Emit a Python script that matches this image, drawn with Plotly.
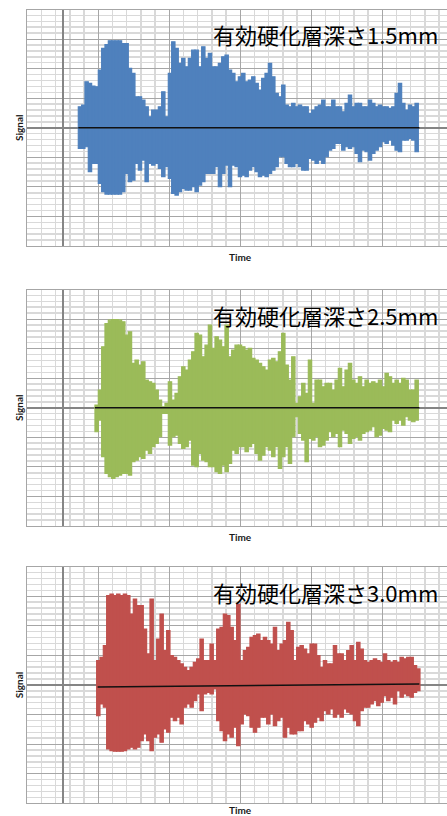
import numpy as np
import plotly.graph_objects as go

W, H = 447, 816
STEP = 10  # sample spacing (time units)

# ---- Panel 1 : 有効硬化層深さ1.5mm (signal envelope, a.u.) ----
P1_START = 50
P1_UPPER = [63, 68, 138, 133, 125, 123, 173, 238, 250, 261,
            261, 261, 261, 253, 253, 178, 163, 93, 93, 83,
            63, 33, 53, 53, 63, 108, 33, 163, 258, 238,
            193, 208, 183, 208, 233, 233, 183, 243, 208, 223,
            183, 183, 193, 213, 218, 173, 163, 138, 153, 163,
            138, 143, 153, 133, 113, 148, 163, 193, 153, 103,
            93, 128, 68, 63, 73, 63, 68, 63, 63, 43,
            53, 63, 68, 83, 63, 63, 83, 63, 63, 48,
            73, 98, 63, 73, 73, 63, 63, 83, 73, 63,
            68, 63, 63, 58, 63, 103, 133, 73, 53, 68,
            63, 73]
P1_LOWER = [-62, -62, -57, -132, -107, -107, -167, -192, -199, -199,
            -199, -199, -199, -192, -137, -162, -157, -107, -127, -97,
            -162, -107, -112, -107, -122, -147, -117, -152, -197, -202,
            -192, -182, -187, -187, -177, -192, -172, -162, -137, -137,
            -137, -117, -177, -137, -112, -177, -112, -117, -147, -142,
            -147, -127, -117, -132, -147, -142, -147, -137, -127, -117,
            -87, -87, -107, -117, -117, -107, -117, -127, -127, -92,
            -97, -107, -97, -107, -87, -67, -62, -47, -47, -67,
            -57, -62, -57, -77, -102, -67, -72, -97, -77, -67,
            -57, -42, -47, -37, -52, -67, -72, -37, -37, -32,
            -37, -72]

# ---- Panel 2 : 有効硬化層深さ2.5mm ----
P2_START = 100
P2_UPPER = [8, 53, 183, 253, 263, 265, 265, 263, 258, 218,
            228, 133, 143, 128, 138, 83, 78, 73, 53, 23,
            3, 13, 78, 23, 43, 93, 123, 113, 143, 168,
            223, 218, 153, 188, 248, 178, 213, 203, 183, 248,
            153, 173, 188, 188, 183, 173, 178, 148, 143, 133,
            123, 113, 143, 148, 138, 168, 223, 128, 83, 153,
            13, 33, 73, 43, 143, 13, 83, 83, 63, 73,
            73, 53, 83, 118, 63, 113, 133, 83, 73, 93,
            63, 83, 73, 78, 73, 83, 63, 103, 93, 73,
            83, 73, 88, 83, 53, 53, 83]
P2_LOWER = [-72, -37, -147, -197, -207, -212, -207, -202, -197, -197,
            -202, -162, -157, -147, -152, -127, -137, -117, -107, -87,
            -17, -17, -112, -87, -82, -107, -122, -117, -97, -172,
            -177, -137, -157, -162, -177, -177, -192, -197, -172, -192,
            -167, -127, -137, -117, -117, -132, -117, -107, -137, -157,
            -142, -117, -127, -147, -117, -182, -147, -117, -167, -87,
            -27, -77, -97, -162, -92, -97, -87, -117, -112, -97,
            -72, -87, -77, -117, -67, -77, -107, -92, -87, -97,
            -77, -72, -67, -57, -87, -82, -62, -67, -72, -37,
            -47, -37, -52, -27, -37, -42, -37]

# ---- Panel 3 : 有効硬化層深さ3.0mm ----
P3_START = 105
P3_UPPER = [73, 83, 118, 268, 273, 268, 273, 268, 273, 268,
            213, 258, 238, 238, 168, 93, 258, 73, 138, 213,
            103, 163, 88, 83, 73, 63, 53, 43, 53, 68,
            78, 138, 73, 73, 123, 73, 168, 173, 213, 208,
            173, 133, 243, 73, 103, 113, 143, 148, 153, 133,
            143, 133, 123, 173, 103, 123, 133, 188, 163, 73,
            113, 118, 108, 93, 123, 123, 88, 53, 73, 63,
            63, 118, 93, 93, 73, 103, 118, 73, 128, 108,
            73, 68, 73, 78, 73, 68, 93, 73, 68, 73,
            68, 83, 78, 83, 83, 58, 48]
P3_LOWER = [-92, -57, -67, -192, -197, -199, -199, -199, -197, -192,
            -187, -192, -187, -167, -147, -167, -197, -157, -147, -172,
            -132, -142, -97, -107, -97, -117, -67, -57, -67, -47,
            -27, -77, -27, -22, -27, -12, -107, -137, -167, -147,
            -157, -127, -182, -117, -87, -92, -127, -142, -127, -97,
            -97, -117, -87, -122, -107, -97, -157, -127, -147, -147,
            -137, -137, -107, -117, -127, -112, -97, -107, -77, -87,
            -72, -97, -87, -97, -72, -82, -87, -107, -122, -77,
            -67, -67, -57, -47, -62, -52, -32, -47, -37, -57,
            -17, -37, -27, -32, -37, -22, -17]

# mean (trend) line: (t_start, t_end, value_start, value_end)
MEAN_LINES = [(45, 1068, 0, 0), (95, 1068, 0, 0), (103, 1068, -6, 3)]

LABELS = ["有効硬化層深さ1.5mm", "有効硬化層深さ2.5mm", "有効硬化層深さ3.0mm"]
COLORS = ["#4F81BD", "#9BBB59", "#C0504D"]
X_TITLE = "Time"
Y_TITLE = "Signal"

panels = [(P1_START, P1_UPPER, P1_LOWER),
          (P2_START, P2_UPPER, P2_LOWER),
          (P3_START, P3_UPPER, P3_LOWER)]

# layout geometry (pixels from top)
PLOT_TOP = [9.5, 289.5, 566.7]
PLOT_H = 236.5
X_LEFT = 27.3
X_RANGE = [-108, 1151]
Y_RANGE = [-355, 355]

fig = go.Figure()
layout = dict(width=W, height=H, autosize=False,
              margin=dict(l=0, r=0, t=0, b=0, pad=0),
              paper_bgcolor="white", plot_bgcolor="white",
              showlegend=False, bargap=0, barmode="overlay")

annotations = []
for i, (start, up, lo) in enumerate(panels):
    n = i + 1
    xa = "x" if n == 1 else f"x{n}"
    ya = "y" if n == 1 else f"y{n}"
    up = np.array(up, dtype=float)
    lo = np.array(lo, dtype=float)
    t = start + STEP * np.arange(len(up))
    c = COLORS[i]
    fig.add_trace(go.Bar(x=t, y=up - lo, base=lo, width=STEP,
                         marker=dict(color=c, line=dict(color=c, width=1.2)),
                         xaxis=xa, yaxis=ya, hoverinfo="skip"))
    t0, t1, m0, m1 = MEAN_LINES[i]
    fig.add_trace(go.Scatter(x=[t0, t1], y=[m0, m1], mode="lines",
                             line=dict(color="#111111", width=1.6),
                             xaxis=xa, yaxis=ya, hoverinfo="skip"))

    top = PLOT_TOP[i]
    bot = top + PLOT_H
    ydom = [1 - bot / H, 1 - top / H]
    xkey = "xaxis" if n == 1 else f"xaxis{n}"
    ykey = "yaxis" if n == 1 else f"yaxis{n}"
    layout[xkey] = dict(domain=[X_LEFT / W, 1], range=X_RANGE, anchor=ya,
                        showticklabels=False, ticks="",
                        tick0=X_RANGE[0], dtick=213,
                        showgrid=True, gridcolor="#A6A6A6", gridwidth=1,
                        minor=dict(tick0=X_RANGE[0], dtick=42.6, showgrid=True,
                                   gridcolor="#D9D9D9", gridwidth=1.5, ticks=""),
                        zeroline=True, zerolinecolor="#858585", zerolinewidth=2,
                        showline=True, linecolor="#A6A6A6", linewidth=1, mirror=True)
    layout[ykey] = dict(domain=ydom, range=Y_RANGE, anchor=xa,
                        showticklabels=False, ticks="",
                        tick0=0, dtick=88.75,
                        showgrid=True, gridcolor="#A6A6A6", gridwidth=1,
                        minor=dict(tick0=0, dtick=17.75, showgrid=True,
                                   gridcolor="#D9D9D9", gridwidth=1.5, ticks=""),
                        zeroline=True, zerolinecolor="#858585", zerolinewidth=1.5,
                        showline=True, linecolor="#A6A6A6", linewidth=1, mirror=False)

    annotations.append(dict(text=LABELS[i], xref="paper", yref="paper",
                            x=440 / W, y=1 - (top + 25) / H,
                            xanchor="right", yanchor="middle", showarrow=False,
                            font=dict(family="Noto Sans CJK JP", size=22, color="#000000")))
    annotations.append(dict(text="<b>" + Y_TITLE + "</b>", xref="paper", yref="paper",
                            x=19 / W, y=1 - (top + 118.5) / H, textangle=-90,
                            xanchor="center", yanchor="middle", showarrow=False,
                            font=dict(family="Lato", size=10, color="#1a1a1a")))
    annotations.append(dict(text="<b>" + X_TITLE + "</b>", xref="paper", yref="paper",
                            x=240.5 / W, y=1 - min(bot + 11, H - 6) / H,
                            xanchor="center", yanchor="middle", showarrow=False,
                            font=dict(family="Lato", size=10, color="#1a1a1a")))

layout["annotations"] = annotations
fig.update_layout(**layout)
fig.write_html(
    "out.html",
    config={"displayModeBar": False, "staticPlot": True},
    post_script="document.documentElement.style.margin='0';"
                "document.body.style.margin='0';"
                "document.body.style.overflow='hidden';"
                "document.documentElement.style.overflow='hidden';",
)
